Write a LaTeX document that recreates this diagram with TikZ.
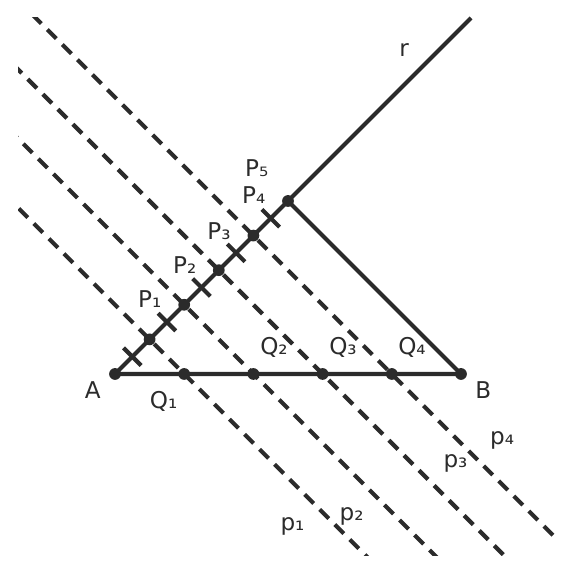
\documentclass[tikz,border=0pt]{standalone}
\usepackage{fontspec}
\setmainfont{DejaVu Sans}
\usetikzlibrary{calc}
\definecolor{ink}{HTML}{2B2B2B}
\tikzset{seg/.style={ink,line width=3.4pt},
	par/.style={ink,line width=3.4pt,dash pattern=on 10.5pt off 7pt},
	lbl/.style={anchor=base,inner sep=0pt,text=ink,font=\fontsize{19}{22}\selectfont}}

\begin{document}
\begin{tikzpicture}[dot/.style={circle,fill=ink,minimum size=3.4mm,inner sep=0pt}]
\useasboundingbox (-3.324,-5.838) rectangle (13.324,10.809);
\coordinate (A) at (0,0);
\coordinate (B) at (10,0);
\coordinate (rend) at (10.29,10.29);
\foreach \k in {1,...,5} {
	\coordinate (P\k) at (\k,\k);
};
\foreach \k in {1,...,4} {
	\coordinate (Q\k) at ({2*\k},0);
};

% parallels p_k through P_k and Q_k
\begin{scope}
\clip (-2.8,-5.26) rectangle (12.75,10.29);
\foreach \k in {1,...,4} {
	\draw[par] ($(P\k)+(-9,9)$) -- ($(Q\k)+(9,-9)$);
};
\end{scope}

\draw[seg] (B) -- (A) -- (rend);
\draw[seg] (P5) -- (B);
% equal steps on r
\foreach \k in {0,...,4} {
	\draw[seg] ({\k+0.245},{\k+0.755}) -- ({\k+0.755},{\k+0.245});
};

\foreach \p in {A,B,P1,P2,P3,P4,P5,Q1,Q2,Q3,Q4} {
	\node[dot] (d\p) at (\p) {};
};

\node[lbl] (labA) at (-0.645,-0.723) {A};
\node[lbl] (labB) at (10.645,-0.702) {B};
\node[lbl] (labr) at (8.353,9.171) {r};
\foreach \t/\x/\y [count=\i] in {P₁/1.003/1.928,P₂/2.014/2.910,P₃/3.006/3.893,P₄/4.012/4.934,P₅/4.095/5.702} {
	\node[lbl] (labP\i) at (\x,\y) {\t};
};
\foreach \t/\x/\y [count=\i] in {Q₁/1.408/-1.01,Q₂/4.595/0.549,Q₃/6.59/0.549,Q₄/8.584/0.549} {
	\node[lbl] (labQ\i) at (\x,\y) {\t};
};
\foreach \t/\x/\y [count=\i] in {p₁/5.13/-4.538,p₂/6.841/-4.249,p₃/9.841/-2.708,p₄/11.191/-2.035} {
	\node[lbl] (labp\i) at (\x,\y) {\t};
};
\end{tikzpicture}
\end{document}
